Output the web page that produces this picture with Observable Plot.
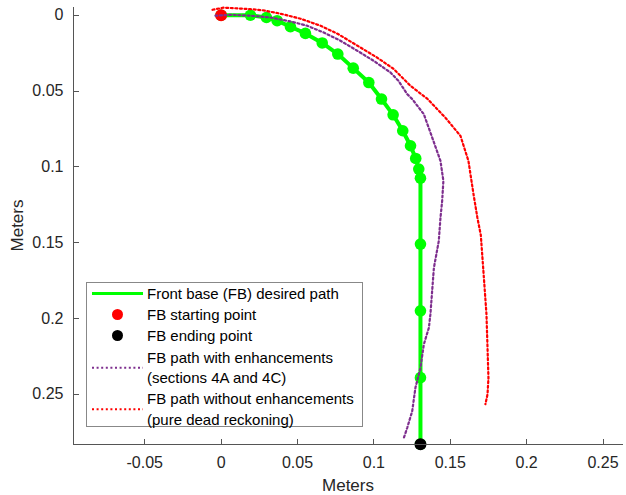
<!DOCTYPE html>
<html>
<head>
<meta charset="utf-8">
<script src="https://cdn.jsdelivr.net/npm/d3@7"></script>
<script src="https://cdn.jsdelivr.net/npm/@observablehq/plot@0.6"></script>
<style>
  html, body { margin: 0; padding: 0; background: #fff; }
  #chart { position: relative; width: 626px; height: 495px; }
  svg { font-family: "Liberation Sans", Arial, sans-serif; }
</style>
</head>
<body>
<div id="chart"></div>
<script>
// Desired path (front base)
const desiredX = [0, 0.0192, 0.0297, 0.0367, 0.0454, 0.0552, 0.0662, 0.0764, 0.0865, 0.0967, 0.1050, 0.1126, 0.1189, 0.1240, 0.1274, 0.1294, 0.1305, 0.1305, 0.1305, 0.1305, 0.1305];
const desiredY = [0, 0, 0.0015, 0.0036, 0.0076, 0.0120, 0.0183, 0.0256, 0.0349, 0.0444, 0.0553, 0.0657, 0.0762, 0.0861, 0.0945, 0.1015, 0.1075, 0.1510, 0.1950, 0.2391, 0.2830];

// Starting / ending points
const startPoint = [0, 0];
const endPoint = [0.1305, 0.2830];

// Path with enhancements (sections 4A and 4C)
const enhX = [-0.0037, 0.0062, 0.0192, 0.0323, 0.0454, 0.0563, 0.0672, 0.0781, 0.0891, 0.0999, 0.1109, 0.1161, 0.1218, 0.1251, 0.1327, 0.1382, 0.1436, 0.1455, 0.1447, 0.1436, 0.1425, 0.1393, 0.1370, 0.1360, 0.1327, 0.1305, 0.1272, 0.1251, 0.1218, 0.1196];
const enhY = [0.0003, -0.0003, 0.0003, 0.0015, 0.0041, 0.0069, 0.0114, 0.0168, 0.0234, 0.0301, 0.0378, 0.0433, 0.0520, 0.0553, 0.0653, 0.0807, 0.0961, 0.1093, 0.1225, 0.1336, 0.1489, 0.1666, 0.1974, 0.2062, 0.2172, 0.2326, 0.2458, 0.2612, 0.2723, 0.2789];

// Path without enhancements (pure dead reckoning)
const drX = [-0.0056, 0.0016, 0.0094, 0.0192, 0.0271, 0.0389, 0.0520, 0.0650, 0.0762, 0.0893, 0.1024, 0.1128, 0.1240, 0.1351, 0.1469, 0.1567, 0.1619, 0.1652, 0.1678, 0.1700, 0.1717, 0.1737, 0.1744, 0.1750, 0.1744, 0.1730];
const drY = [-0.0036, -0.0050, -0.0046, -0.0040, -0.0033, -0.0010, 0.0023, 0.0069, 0.0122, 0.0201, 0.0281, 0.0353, 0.0466, 0.0552, 0.0677, 0.0796, 0.0961, 0.1179, 0.1338, 0.1450, 0.1688, 0.1972, 0.2196, 0.2394, 0.2500, 0.2566];

const xTicks = [-0.05, 0, 0.05, 0.1, 0.15, 0.2, 0.25];
const yTicks = [0, 0.05, 0.1, 0.15, 0.2, 0.25];
const xTickLabels = ["-0.05", "0", "0.05", "0.1", "0.15", "0.2", "0.25"];
const yTickLabels = ["0", "0.05", "0.1", "0.15", "0.2", "0.25"];
const axisLabel = "Meters";
const legendLabels = [
  ["Front base (FB) desired path"],
  ["FB starting point"],
  ["FB ending point"],
  ["FB path with enhancements", "(sections 4A and 4C)"],
  ["FB path without enhancements", "(pure dead reckoning)"]
];

const desired = desiredX.map((x, i) => ({x, y: desiredY[i]}));
const enh = enhX.map((x, i) => ({x, y: enhY[i]}));
const dr = drX.map((x, i) => ({x, y: drY[i]}));

const ink = "#262626";
const green = "#00ff00", purple = "#7E2F8E", red = "#ff0000";
const dash = "2,2.6";

const W = 626, H = 495, mL = 73, mR = 3, mT = 7, mB = 51;

const plot = Plot.plot({
  width: W, height: H,
  marginLeft: mL, marginRight: mR, marginTop: mT, marginBottom: mB,
  style: {fontFamily: '"Liberation Sans", Arial, sans-serif', fontSize: "16px", color: ink, background: "white"},
  x: {domain: [-0.0966, 0.2634], ticks: xTicks},
  y: {domain: [-0.0051, 0.2832], reverse: true, ticks: yTicks},
  marks: [
    Plot.axisX({anchor: "bottom", ticks: xTicks, tickSize: 0, tickPadding: 12, label: null, fontSize: 16, tickFormat: d => xTickLabels[xTicks.indexOf(d)]}),
    Plot.axisY({anchor: "left", ticks: yTicks, tickSize: 0, tickPadding: 10, label: null, fontSize: 16, tickFormat: d => yTickLabels[yTicks.indexOf(d)]}),
    Plot.line(desired, {x: "x", y: "y", stroke: green, strokeWidth: 4}),
    Plot.dot(desired, {x: "x", y: "y", r: 5.8, fill: green}),
    Plot.dot([startPoint], {x: d => d[0], y: d => d[1], r: 6, fill: red}),
    Plot.dot([endPoint], {x: d => d[0], y: d => d[1], r: 6, fill: "#000"}),
    Plot.line(enh, {x: "x", y: "y", stroke: purple, strokeWidth: 2.2, strokeDasharray: dash}),
    Plot.line(dr, {x: "x", y: "y", stroke: red, strokeWidth: 2.2, strokeDasharray: dash})
  ]
});
document.getElementById("chart").appendChild(plot);

const svg = d3.select(plot);
const xs = plot.scale("x"), ys = plot.scale("y");
const x0 = mL, x1 = W - mR, y0 = mT, y1 = H - mB;

// axis lines and inward ticks (MATLAB style, box off)
const ax = svg.append("g").attr("stroke", "#555").attr("stroke-width", 1).attr("fill", "none");
ax.append("line").attr("x1", x0).attr("x2", x1).attr("y1", y1 + 0.5).attr("y2", y1 + 0.5);
ax.append("line").attr("x1", x0 + 0.5).attr("x2", x0 + 0.5).attr("y1", y0).attr("y2", y1);
xTicks.forEach(t => {
  const px = Math.round(xs.apply(t)) + 0.5;
  ax.append("line").attr("x1", px).attr("x2", px).attr("y1", y1).attr("y2", y1 - 5);
});
yTicks.forEach(t => {
  const py = Math.round(ys.apply(t)) + 0.5;
  ax.append("line").attr("x1", x0).attr("x2", x0 + 6).attr("y1", py).attr("y2", py);
});

// axis titles
svg.append("text").attr("x", (x0 + x1) / 2).attr("y", 491).attr("text-anchor", "middle")
  .attr("fill", ink).attr("font-size", 17).text(axisLabel);
svg.append("text").attr("transform", `translate(23,${(y0 + y1) / 2}) rotate(-90)`).attr("text-anchor", "middle")
  .attr("fill", ink).attr("font-size", 17).text(axisLabel);

// legend
const lg = svg.append("g").attr("text-anchor", "start");
const lx = 86.5, ly = 282.5, lw = 276, lh = 144;
lg.append("rect").attr("x", lx).attr("y", ly).attr("width", lw).attr("height", lh)
  .attr("fill", "white").attr("stroke", "#888").attr("stroke-width", 1);
const sx1 = 92, sx2 = 143, tx = 147, cx = 117.5;
const rows = [293.5, 314.5, 335.5, 357.5, 399];
const lineH = 20.5;
legendLabels.forEach((lines, i) => {
  lines.forEach((t, j) => {
    lg.append("text").attr("x", tx).attr("y", rows[i] + j * lineH).attr("dy", "0.35em")
      .attr("text-anchor", "start").attr("fill", "#000").attr("font-size", 15).text(t);
  });
});
const midRow = i => rows[i] + (legendLabels[i].length - 1) * lineH / 2;
lg.append("line").attr("x1", sx1).attr("x2", sx2).attr("y1", midRow(0)).attr("y2", midRow(0))
  .attr("stroke", green).attr("stroke-width", 3);
lg.append("circle").attr("cx", cx).attr("cy", midRow(1)).attr("r", 5.5).attr("fill", red);
lg.append("circle").attr("cx", cx).attr("cy", midRow(2)).attr("r", 5.5).attr("fill", "#000");
lg.append("line").attr("x1", sx1).attr("x2", sx2).attr("y1", midRow(3)).attr("y2", midRow(3))
  .attr("stroke", purple).attr("stroke-width", 2).attr("stroke-dasharray", dash);
lg.append("line").attr("x1", sx1).attr("x2", sx2).attr("y1", midRow(4)).attr("y2", midRow(4))
  .attr("stroke", red).attr("stroke-width", 2).attr("stroke-dasharray", dash);
</script>
</body>
</html>
